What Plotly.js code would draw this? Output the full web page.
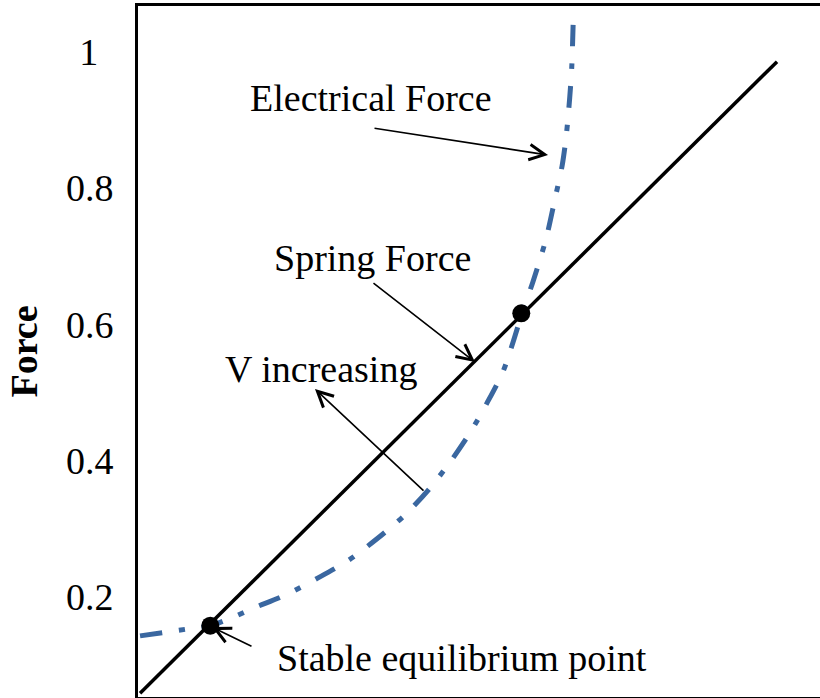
<!DOCTYPE html>
<html>
<head>
<meta charset="utf-8">
<script src="https://cdn.plot.ly/plotly-3.0.1.min.js"></script>
<style>
  html, body { margin: 0; padding: 0; background: #ffffff; }
  #chart { width: 820px; height: 698px; }
</style>
</head>
<body>
<div id="chart"></div>
<script>
// Spring (restoring) force: linear in displacement
const springX = [0.003, 0.937];
const springF = [0.059, 0.985];

// Electrostatic force: grows steeply as the gap closes
const elecX = [0.003, 0.072, 0.106, 0.136, 0.170, 0.2185, 0.264, 0.309, 0.350, 0.390,
               0.425, 0.457, 0.487, 0.512, 0.535, 0.550, 0.563, 0.579, 0.598, 0.611,
               0.622, 0.628, 0.633, 0.636, 0.638];
const elecF = [0.143, 0.153, 0.158, 0.169, 0.184, 0.204, 0.228, 0.254, 0.285, 0.319,
               0.356, 0.397, 0.441, 0.485, 0.530, 0.574, 0.616, 0.662, 0.724, 0.782,
               0.833, 0.877, 0.932, 0.977, 1.039];

// Equilibrium points where the two forces balance
const eqX = [0.106, 0.562];
const eqF = [0.158, 0.616];

// Force axis ticks (the single-digit label is padded so labels sit centred)
const yTickVals = [0.2, 0.4, 0.6, 0.8, 1];
const yTickText = ['0.2', '0.4', '0.6', '0.8', '1\u2009\u2009'];

const serif = 'Liberation Serif, Times New Roman, serif';
const black = '#000000';
const blue = '#3A67A0';
const fontSize = 38;

const traces = [
  {
    x: elecX, y: elecF, type: 'scatter', mode: 'lines',
    line: { color: blue, width: 5, dash: '22px,17px,6px,17px', shape: 'spline', smoothing: 0.8 },
    hoverinfo: 'skip', showlegend: false
  },
  {
    x: springX, y: springF, type: 'scatter', mode: 'lines',
    line: { color: black, width: 3.5 },
    hoverinfo: 'skip', showlegend: false
  },
  {
    x: eqX, y: eqF, type: 'scatter', mode: 'markers',
    marker: { color: black, size: 18 },
    hoverinfo: 'skip', showlegend: false
  }
];

function label(text, x, y) {
  return {
    text: text, x: x, y: y, xref: 'x', yref: 'y',
    xanchor: 'left', yanchor: 'middle', showarrow: false,
    font: { family: serif, size: fontSize, color: black }
  };
}
function arrow(tailX, tailY, headX, headY) {
  return {
    text: '', x: headX, y: headY, ax: tailX, ay: tailY,
    xref: 'x', yref: 'y', axref: 'x', ayref: 'y',
    showarrow: true, arrowhead: 5, arrowsize: 1.9, arrowwidth: 1.6,
    arrowcolor: black, standoff: 0, startstandoff: 0
  };
}

const layout = {
  width: 820, height: 698,
  margin: { l: 138, r: 0, t: 6, b: 1, pad: 0 },
  paper_bgcolor: '#ffffff', plot_bgcolor: '#ffffff',
  xaxis: {
    range: [0, 1], showgrid: false, zeroline: false,
    showticklabels: false, ticks: '',
    showline: true, mirror: true, linecolor: black, linewidth: 3
  },
  yaxis: {
    range: [0.0534, 1.0666], showgrid: false, zeroline: false,
    tickmode: 'array', tickvals: yTickVals, ticktext: yTickText,
    ticks: '', ticklabelstandoff: 14,
    tickfont: { family: serif, size: fontSize, color: black },
    showline: true, mirror: false, linecolor: black, linewidth: 3,
    title: { text: '<b>Force</b>', standoff: 17, font: { family: serif, size: fontSize, color: black } }
  },
  annotations: [
    label('Electrical Force', 0.1613, 0.9317),
    label('Spring Force', 0.1965, 0.697),
    label('V increasing', 0.124, 0.535),
    label('Stable equilibrium point', 0.2009, 0.1106),
    arrow(0.3446, 0.8877, 0.6012, 0.8481),
    arrow(0.3431, 0.6619, 0.4941, 0.5446),
    arrow(0.4208, 0.354, 0.2595, 0.505),
    arrow(0.1686, 0.1267, 0.1085, 0.156)
  ]
};

Plotly.newPlot('chart', traces, layout, { staticPlot: true, displayModeBar: false });
</script>
</body>
</html>
